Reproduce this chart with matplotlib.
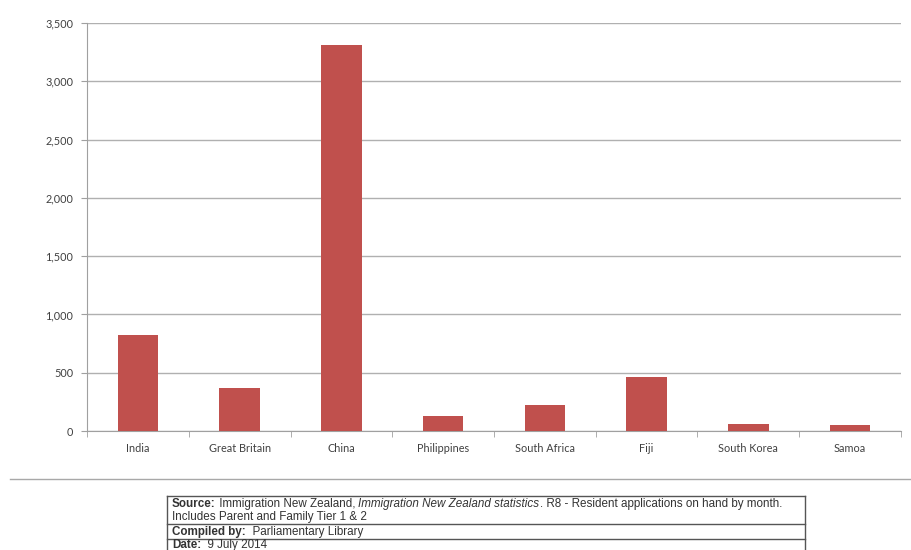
import matplotlib
matplotlib.use("Agg")
import matplotlib.pyplot as plt
from matplotlib.lines import Line2D
from matplotlib.ticker import FuncFormatter, FixedLocator

countries = ["India", "Great Britain", "China", "Philippines", "South Africa",
             "Fiji", "South Korea", "Samoa"]
applications = [820, 372, 3310, 127, 223, 462, 60, 51]
yticks = [0, 500, 1000, 1500, 2000, 2500, 3000, 3500]

W, H = 912, 550
fig = plt.figure(figsize=(W / 100, H / 100), dpi=100)
fig.patch.set_facecolor("white")

def fx(px):
    return px / W

def fy(py):
    return 1 - py / H

ax = fig.add_axes([fx(87), fy(431), fx(901) - fx(87), fy(23) - fy(431)])
x = list(range(len(countries)))
ax.bar(x, applications, width=0.4, color="#c0504d", zorder=3)
ax.set_xlim(-0.5, len(countries) - 0.5)
ax.set_ylim(0, 3500)
ax.set_yticks(yticks)
ax.yaxis.set_major_formatter(FuncFormatter(lambda v, p: f"{int(v):,}"))
ax.grid(axis="y", color="#b0b0b0", linewidth=1.0, zorder=0)
ax.set_xticks(x)
ax.set_xticklabels(countries)
ax.xaxis.set_minor_locator(FixedLocator([i - 0.5 for i in range(len(countries) + 1)]))
ax.tick_params(axis="x", which="major", length=0, pad=9)
ax.tick_params(axis="x", which="minor", length=4, color="#a0a0a0", direction="out")
ax.tick_params(axis="y", length=4, color="#a0a0a0", direction="out", pad=6)
for lab in ax.get_xticklabels() + ax.get_yticklabels():
    lab.set_fontfamily("Lato")
    lab.set_fontsize(7.8)
    lab.set_color("#404040")
for s in ["top", "right"]:
    ax.spines[s].set_visible(False)
ax.spines["left"].set_color("#a0a0a0")
ax.spines["bottom"].set_color("#a0a0a0")

# separator line
fig.add_artist(Line2D([fx(10), fx(912)], [fy(479), fy(479)], color="#a8a8a8", linewidth=1.0))

# source table
L, R = 167, 805
tc = "#333333"
for yy in [496, 524, 539]:
    fig.add_artist(Line2D([fx(L), fx(R)], [fy(yy), fy(yy)], color="#555555", linewidth=1.0))
fig.add_artist(Line2D([fx(L), fx(L)], [fy(496), fy(552)], color="#555555", linewidth=1.0))
fig.add_artist(Line2D([fx(R), fx(R)], [fy(496), fy(552)], color="#555555", linewidth=1.0))

fam = ["Liberation Sans", "DejaVu Sans"]
fs = 8.4
renderer = fig.canvas.get_renderer()

def pieces(px, py, parts):
    cur = px
    for txt, weight, style in parts:
        t = fig.text(fx(cur), fy(py), txt, fontsize=fs, family=fam, weight=weight,
                     style=style, color=tc, va="center", ha="left")
        bb = t.get_window_extent(renderer=renderer)
        cur += bb.width

pieces(172, 504, [("Source:", "bold", "normal"),
                  (" Immigration New Zealand, ", "normal", "normal"),
                  ("Immigration New Zealand statistics", "normal", "italic"),
                  (". R8 - Resident applications on hand by month.", "normal", "normal")])
pieces(172, 517, [("Includes Parent and Family Tier 1 & 2", "normal", "normal")])
pieces(172, 532, [("Compiled by:", "bold", "normal"), ("  Parliamentary Library", "normal", "normal")])
pieces(172, 545, [("Date:", "bold", "normal"), ("  9 July 2014", "normal", "normal")])

fig.savefig("out.png", dpi=100, facecolor="white")
